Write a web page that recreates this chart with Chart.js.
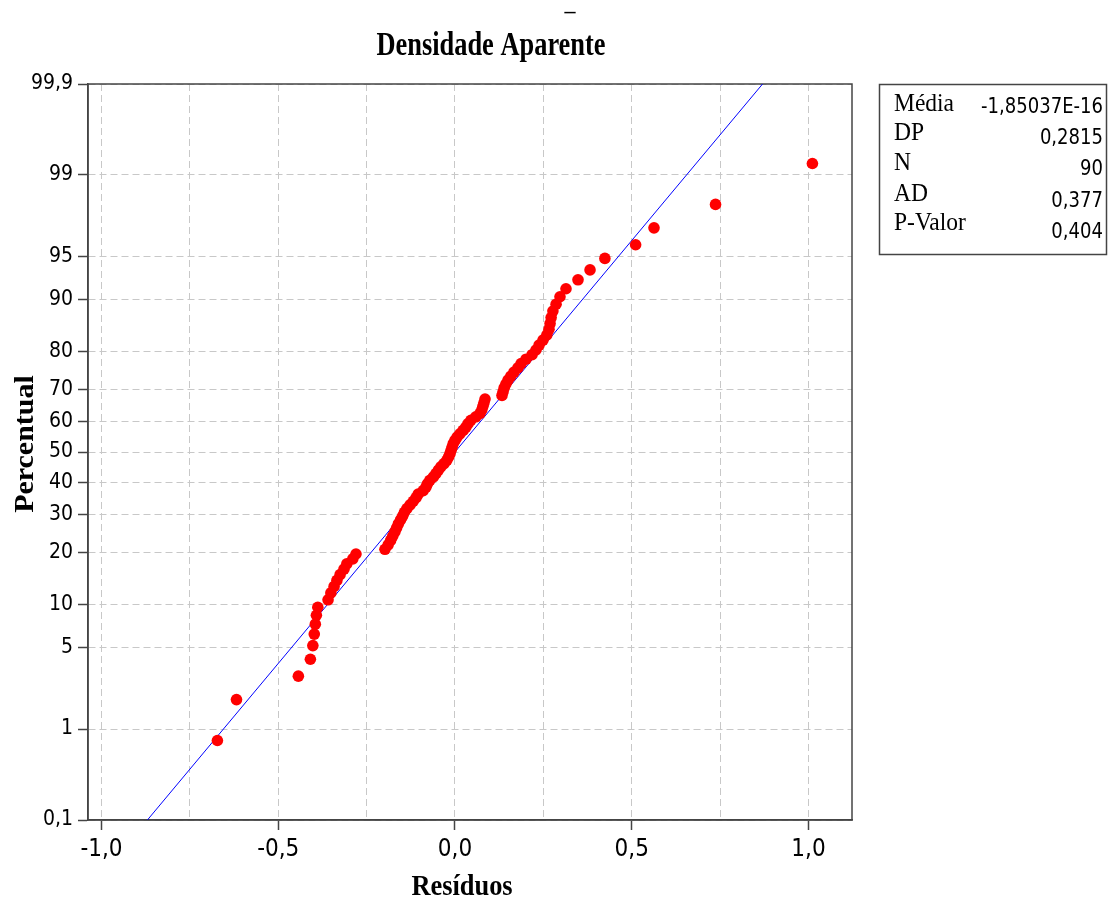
<!DOCTYPE html>
<html><head><meta charset="utf-8">
<script src="https://cdn.jsdelivr.net/npm/chart.js@4.4.1/dist/chart.umd.min.js"></script>
<style>html,body{margin:0;padding:0;background:#fff}#wrap{width:1112px;height:901px;position:relative}</style>
</head><body><div id="wrap"><canvas id="c" width="1112" height="901"></canvas></div>
<script>
// ---- data ----
const RESIDUALS = [
 -0.672,-0.618,-0.443,-0.409,-0.402,-0.398,-0.395,-0.392,-0.388,-0.359,
 -0.351,-0.342,-0.334,-0.325,-0.314,-0.306,-0.289,-0.280,-0.198,-0.189,
 -0.182,-0.176,-0.170,-0.165,-0.160,-0.154,-0.148,-0.143,-0.136,-0.127,
 -0.118,-0.110,-0.104,-0.090,-0.082,-0.078,-0.071,-0.061,-0.054,-0.047,
 -0.040,-0.031,-0.023,-0.018,-0.014,-0.011,-0.008,-0.005,0.000,0.006,
 0.014,0.023,0.031,0.037,0.045,0.059,0.071,0.076,0.079,0.082,
 0.085,0.133,0.136,0.139,0.144,0.150,0.158,0.167,0.178,0.187,
 0.201,0.218,0.229,0.238,0.249,0.260,0.266,0.269,0.272,0.277,
 0.286,0.297,0.314,0.348,0.382,0.424,0.511,0.563,0.737,1.011
];
const PERCENTS = [
 0.77,1.88,2.99,4.09,5.20,6.31,7.41,8.52,9.62,10.73,
 11.84,12.94,14.05,15.15,16.26,17.37,18.47,19.58,20.69,21.79,
 22.90,24.00,25.11,26.22,27.32,28.43,29.54,30.64,31.75,32.85,
 33.96,35.07,36.17,37.28,38.38,39.49,40.60,41.70,42.81,43.92,
 45.02,46.13,47.23,48.34,49.45,50.55,51.66,52.77,53.87,54.98,
 56.08,57.19,58.30,59.40,60.51,61.62,62.72,63.83,64.93,66.04,
 67.15,68.25,69.36,70.46,71.57,72.68,73.78,74.89,76.00,77.10,
 78.21,79.31,80.42,81.53,82.63,83.74,84.85,85.95,87.06,88.16,
 89.27,90.38,91.48,92.59,93.69,94.80,95.91,97.01,98.12,99.23
];
const FIT_X = [-0.870, 0.870];
const FIT_P = [0.1, 99.9];
const Y_TICKS = [0.1, 1, 5, 10, 20, 30, 40, 50, 60, 70, 80, 90, 95, 99, 99.9];
const X_GRID = [-1, -0.75, -0.5, -0.25, 0, 0.25, 0.5, 0.75, 1];
const X_LABELS = [-1, -0.5, 0, 0.5, 1];
const STAT_LABELS = ['Média', 'DP', 'N', 'AD', 'P-Valor'];
const STAT_VALUES = ['-1,85037E-16', '0,2815', '90', '0,377', '0,404'];
const TITLE = 'Densidade Aparente';
const X_TITLE = 'Resíduos';
const Y_TITLE = 'Percentual';

// ---- normal probability scale ----
function qnorm(p){
  const a=[-3.969683028665376e+01,2.209460984245205e+02,-2.759285104469687e+02,1.383577518672690e+02,-3.066479806614716e+01,2.506628277459239e+00];
  const b=[-5.447609879822406e+01,1.615858368580409e+02,-1.556989798598866e+02,6.680131188771972e+01,-1.328068155288572e+01];
  const c=[-7.784894002430293e-03,-3.223964580411365e-01,-2.400758277161838e+00,-2.549671348243269e+00,4.374664141464968e+00,2.938163982698783e+00];
  const d=[7.784695709041462e-03,3.224671290700398e-01,2.445134137142996e+00,3.754408661907416e+00];
  const pl=0.02425, ph=1-pl; let q,r;
  if(p<pl){q=Math.sqrt(-2*Math.log(p));return (((((c[0]*q+c[1])*q+c[2])*q+c[3])*q+c[4])*q+c[5])/((((d[0]*q+d[1])*q+d[2])*q+d[3])*q+1);}
  if(p>ph){q=Math.sqrt(-2*Math.log(1-p));return -(((((c[0]*q+c[1])*q+c[2])*q+c[3])*q+c[4])*q+c[5])/((((d[0]*q+d[1])*q+d[2])*q+d[3])*q+1);}
  q=p-0.5;r=q*q;return (((((a[0]*r+a[1])*r+a[2])*r+a[3])*r+a[4])*r+a[5])*q/(((((b[0]*r+b[1])*r+b[2])*r+b[3])*r+b[4])*r+1);
}
function pnorm(z){
  const t=1/(1+0.2316419*Math.abs(z));
  const dd=0.3989423*Math.exp(-z*z/2);
  const p=dd*t*(0.3193815+t*(-0.3565638+t*(1.781478+t*(-1.821256+t*1.330274))));
  return z>0?1-p:p;
}
class ProbabilityScale extends Chart.Scale {
  static id = 'probability';
  static defaults = {};
  parse(raw){ const v = +raw; return isFinite(v) ? v : null; }
  determineDataLimits(){
    this.min = this.options.min; this.max = this.options.max;
    this._zmin = qnorm(this.min/100); this._zmax = qnorm(this.max/100);
  }
  buildTicks(){ return Y_TICKS.map(v => ({value: v})); }
  getLabelForValue(v){ return String(v).replace('.', ','); }
  getPixelForValue(v){
    if (v === null || v === undefined || isNaN(v)) return NaN;
    return this.getPixelForDecimal((qnorm(v/100) - this._zmin) / (this._zmax - this._zmin));
  }
  getValueForPixel(px){
    const d = this.getDecimalForPixel(px);
    return 100 * pnorm(this._zmin + d * (this._zmax - this._zmin));
  }
}
Chart.register(ProbabilityScale);

// ---- text helper ----
function txt(ctx, s, x, y, font, align, sx, sy, rot, color){
  ctx.save();
  ctx.translate(x, y);
  if (rot) ctx.rotate(rot);
  ctx.scale(sx || 1, sy || 1);
  ctx.font = font; ctx.textAlign = align || 'left'; ctx.textBaseline = 'alphabetic';
  ctx.fillStyle = color || '#000';
  ctx.fillText(s, 0, 0);
  ctx.restore();
}

const decor = {
  id: 'decor',
  beforeDatasetsDraw(chart){
    const {ctx, chartArea: a} = chart;
    ctx.save();
    ctx.strokeStyle = '#444'; ctx.lineWidth = 1.5;
    ctx.strokeRect(a.left, a.top, a.right - a.left, a.bottom - a.top);
    ctx.restore();
  },
  afterDraw(chart){
    const ctx = chart.ctx;
    txt(ctx, '_', 570, 10, 'bold 22px "Liberation Serif"', 'center');
    txt(ctx, TITLE, 491, 55, 'bold 33px "Liberation Serif"', 'center', 0.8, 1, 0, '#000');
    txt(ctx, X_TITLE, 462, 895, 'bold 30px "Liberation Serif"', 'center', 0.88, 1, 0, '#000');
    txt(ctx, Y_TITLE, 33, 444, 'bold 30px "Liberation Serif"', 'center', 1, 0.9, -Math.PI/2, '#000');
    // stats box
    ctx.save();
    ctx.strokeStyle = '#444'; ctx.lineWidth = 1.5;
    ctx.strokeRect(879.5, 84.5, 227, 170);
    ctx.restore();
    const lb = [111, 140, 170, 201, 230];
    const vb = [113, 144, 175, 207, 238];
    STAT_LABELS.forEach((s, i) => txt(ctx, s, 894, lb[i], '25px "Liberation Serif"', 'left', 0.94, 1, 0, '#000'));
    STAT_VALUES.forEach((s, i) => txt(ctx, s, 1103, vb[i], '22px "DejaVu Sans"', 'right', 0.82, 1, 0, '#000'));
  }
};

const pts = RESIDUALS.map((x, i) => ({x, y: PERCENTS[i]}));
const fit = FIT_X.map((x, i) => ({x, y: FIT_P[i]}));

new Chart(document.getElementById('c'), {
  type: 'scatter',
  data: { datasets: [
    { data: pts, backgroundColor: '#ff0000', borderWidth: 0, pointRadius: 5.8, pointHoverRadius: 5.8 },
    { data: fit, showLine: true, borderColor: '#0000ff', borderWidth: 1, pointRadius: 0, fill: false }
  ]},
  options: {
    responsive: false, animation: false, devicePixelRatio: 1,
    layout: { padding: { top: 84, right: 260, bottom: 31, left: 0 } },
    plugins: { legend: { display: false }, tooltip: { enabled: false }, title: { display: false } },
    scales: {
      x: {
        type: 'linear', min: -1.038, max: 1.123,
        afterBuildTicks: s => { s.ticks = X_GRID.map(v => ({value: v})); },
        afterFit: s => { s.height = 50; },
        ticks: {
          autoSkip: false, maxRotation: 0, padding: 5, color: '#000',
          font: { family: '"DejaVu Sans Condensed", "DejaVu Sans"', size: 24 },
          callback: v => X_LABELS.includes(v) ? v.toFixed(1).replace('.', ',') : ''
        },
        grid: {
          color: '#c8c8c8', lineWidth: 1, tickLength: 10, tickBorderDash: [], tickWidth: 1.5,
          tickColor: c => (c.tick && X_LABELS.includes(c.tick.value)) ? '#444' : 'rgba(0,0,0,0)'
        },
        border: { display: true, color: '#444', width: 1.5, dash: [7, 4] }
      },
      y: {
        type: 'probability', min: 0.1, max: 99.9,
        afterFit: s => { s.width = 88; },
        ticks: {
          autoSkip: false, padding: 5, color: '#000',
          font: { family: '"DejaVu Sans Condensed", "DejaVu Sans"', size: 21 },
          callback: v => String(v).replace('.', ',')
        },
        grid: { color: '#c8c8c8', lineWidth: 1, tickLength: 10, tickBorderDash: [], tickWidth: 1.5, tickColor: '#444' },
        border: { display: true, color: '#444', width: 1.5, dash: [7, 4] }
      }
    }
  },
  plugins: [decor]
});
</script>
</body></html>
